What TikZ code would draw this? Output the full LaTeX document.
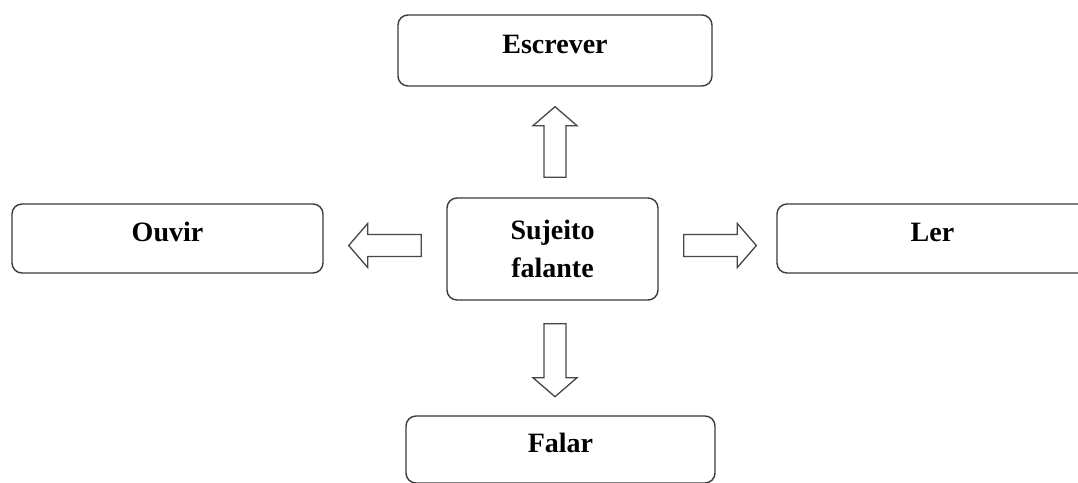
\documentclass[tikz,border=0pt]{standalone}
\usepackage{fontspec}
\setmainfont{Liberation Serif}
\usetikzlibrary{calc}
\definecolor{boxgray}{HTML}{3A3A3A}
\definecolor{arrowgray}{HTML}{474747}
\tikzset{
  box/.style={draw=boxgray, line width=1.4pt, rounded corners=10pt,
    font=\fontsize{28}{37.5}\selectfont\bfseries, inner sep=0pt,
    text height=18.5pt, text depth=12.5pt},
  barrow/.style={draw=arrowgray, line width=1.3pt, fill=white, line join=miter},
}
\newcommand\blockarrow[2]{%
  \coordinate (#1#2h) at ($(#2)!19pt!(#1)$);
  \draw[barrow] ($(#1)!11pt!90:(#2)$) -- ($(#1#2h)!11pt!-90:(#1)$)
    -- ($(#1#2h)!22pt!-90:(#1)$) -- (#2) -- ($(#1#2h)!22pt!90:(#1)$)
    -- ($(#1#2h)!11pt!90:(#1)$) -- ($(#1)!11pt!-90:(#2)$) -- cycle;
}
\begin{document}
\begin{tikzpicture}[x=1pt,y=-1pt]
\useasboundingbox (0,0) rectangle (1078,482);
\node[box, minimum width=314pt, minimum height=71pt] (esc) at (555,50.5) {Escrever};
\node[box, minimum width=311pt, minimum height=69pt] (ouv) at (167.5,238.5) {Ouvir};
\node[box, minimum width=311pt, minimum height=69pt] (ler) at (932.5,238.5) {Ler};
\node[box, minimum width=309pt, minimum height=67pt] (fal) at (560.5,449.5) {Falar};
\node[box, minimum width=211pt, minimum height=102pt, align=center,
  text height={}, text depth={}] (sub) at (552.5,249) {Sujeito\\falante};
% block arrows
\coordinate (uA) at ($(sub.north)+(2.5,-20)$);
\coordinate (uB) at ($(esc.south)+(0,20)$);
\coordinate (lA) at ($(sub.west)+(-25,-3.5)$);
\coordinate (lB) at ($(ouv.east)+(25,7)$);
\coordinate (rA) at ($(sub.east)+(25,-3.5)$);
\coordinate (rB) at ($(ler.west)+(-20,7)$);
\coordinate (dA) at ($(sub.south)+(2.5,23)$);
\coordinate (dB) at ($(dA)+(0,73)$);
\blockarrow{uA}{uB}
\blockarrow{lA}{lB}
\blockarrow{rA}{rB}
\blockarrow{dA}{dB}
\end{tikzpicture}
\end{document}
